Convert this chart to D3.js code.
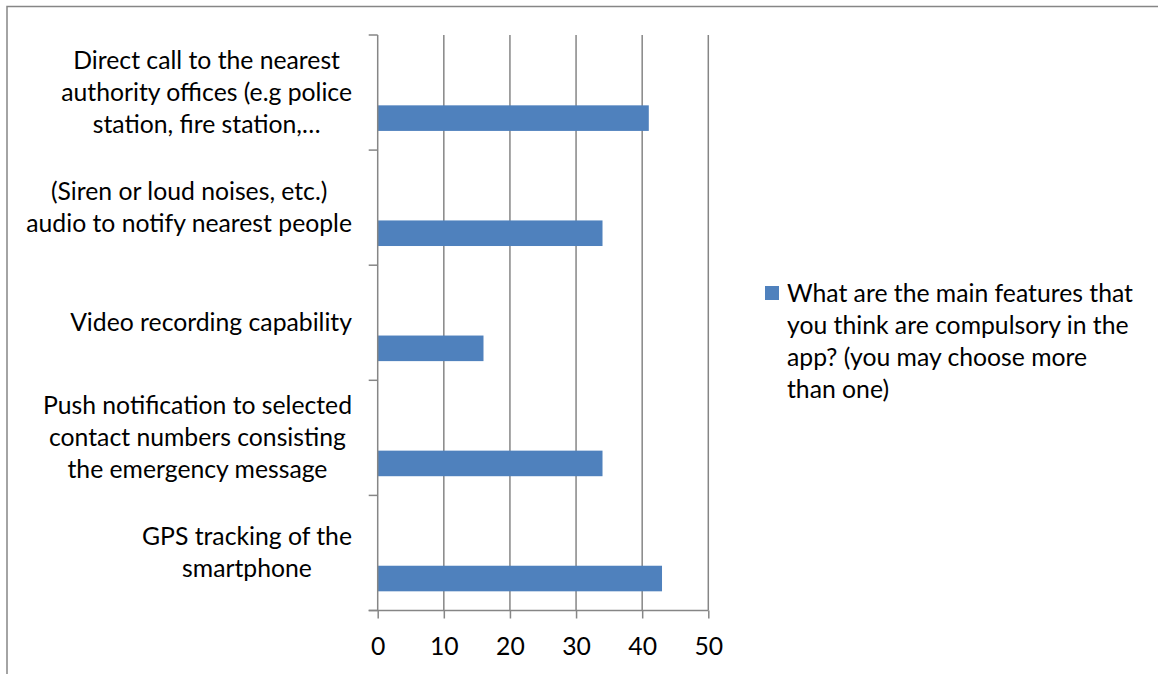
<!DOCTYPE html>
<html>
<head>
<meta charset="utf-8">
<script src="https://cdn.jsdelivr.net/npm/d3@7"></script>
<style>
  html, body { margin: 0; padding: 0; background: #fff; }
  svg { display: block; }
  text { font-family: Lato, "Open Sans", sans-serif; fill: #000; }
</style>
</head>
<body>
<svg id="chart" width="1158" height="674"></svg>
<script>
// Survey answers: features considered compulsory in the app
const categories = [
  "Direct call to the nearest\nauthority offices (e.g police\nstation, fire station,…",
  "(Siren or loud noises, etc.)\naudio to notify nearest people",
  "Video recording capability",
  "Push notification to selected\ncontact numbers consisting\nthe emergency message",
  "GPS tracking of the\nsmartphone"
];
const responses = [41, 34, 16, 34, 43];
const xTicks = [0, 10, 20, 30, 40, 50];
const seriesName = ["What are the main features that", "you think are compulsory in the", "app? (you may choose more", "than one)"];

const svg = d3.select("#chart");
const W = 1158, H = 674;

// Pick a font size whose widths follow the original 20pt Calibri labels
const probe = svg.append("text").attr("font-size", 100).text("Video recording capability");
const fs = 100 * 282 / probe.node().getComputedTextLength();
probe.remove();

const axisColor = "#868686";
const barColor = "#4f81bd";

// Chart area border
svg.append("path")
  .attr("d", `M7,${H} V6.5 H${W}`)
  .attr("fill", "none")
  .attr("stroke", axisColor)
  .attr("stroke-width", 1.5);

const plot = { left: 377.7, right: 708.3, top: 35, bottom: 610.5 };

const x = d3.scaleLinear().domain([0, 50]).range([plot.left, plot.right]);
const y = d3.scaleBand().domain(categories).range([plot.top, plot.bottom]).padding(0);
const bw = y.bandwidth();

// Vertical gridlines
svg.append("g").selectAll("line")
  .data(xTicks.filter(d => d > 0))
  .join("line")
  .attr("x1", d => x(d)).attr("x2", d => x(d))
  .attr("y1", plot.top).attr("y2", plot.bottom)
  .attr("stroke", axisColor).attr("stroke-width", 1.5);

// Bars (third slot of a clustered layout with 150% gap)
const slot = bw / 4.5;
svg.append("g").selectAll("rect")
  .data(categories)
  .join("rect")
  .attr("x", x(0))
  .attr("y", d => y(d) + slot * 2.75)
  .attr("width", (d, i) => x(responses[i]) - x(0))
  .attr("height", slot)
  .attr("fill", barColor);

// Category axis
const yAxis = d3.axisLeft(y).tickSize(0).tickFormat("");
const gy = svg.append("g").attr("transform", `translate(${plot.left},0)`).call(yAxis);
gy.select(".domain").attr("stroke", axisColor).attr("stroke-width", 1.5).attr("d", `M0,${plot.top}V${plot.bottom}`);
const bounds = categories.map(d => y(d)).concat([plot.bottom]);
gy.selectAll(".cat-tick").data(bounds).join("line")
  .attr("class", "cat-tick")
  .attr("x1", -9).attr("x2", 0)
  .attr("y1", d => d).attr("y2", d => d)
  .attr("stroke", axisColor).attr("stroke-width", 1.5);

// Value axis
const xAxis = d3.axisBottom(x).tickValues(xTicks).tickSize(8).tickPadding(0).tickFormat(d3.format("d"));
const gx = svg.append("g").attr("transform", `translate(0,${plot.bottom})`).call(xAxis);
gx.select(".domain").attr("stroke", axisColor).attr("stroke-width", 1.5).attr("d", `M${plot.left - 9},0H${plot.right}`);
gx.selectAll(".tick line").attr("stroke", axisColor).attr("stroke-width", 1.5);
gx.selectAll(".tick text")
  .attr("font-family", "Lato, sans-serif")
  .attr("font-size", fs)
  .attr("fill", "#000")
  .attr("dy", 0)
  .attr("y", 44.5)
  .attr("dominant-baseline", "alphabetic");

// Category labels: lines centred on each other, block right-aligned
const LH = 32;
const labelRight = 352;
categories.forEach(cat => {
  const lines = cat.split("\n");
  const cy = y(cat) + bw / 2;
  const g = svg.append("g");
  const texts = lines.map((ln, i) => g.append("text")
    .attr("font-size", fs)
    .attr("y", cy - (lines.length - 1) / 2 * LH + 8.5 + i * LH)
    .text(ln));
  const widths = texts.map(t => t.node().getComputedTextLength());
  const blockW = d3.max(widths);
  const centre = labelRight - blockW / 2;
  texts.forEach(t => t.attr("x", centre).attr("text-anchor", "middle"));
});

// Legend
const lg = svg.append("g");
lg.append("rect").attr("x", 765).attr("y", 286).attr("width", 14).attr("height", 14).attr("fill", barColor);
lg.selectAll("text").data(seriesName).join("text")
  .attr("x", 787)
  .attr("y", (d, i) => 302 + i * 32)
  .attr("font-size", fs)
  .text(d => d);
</script>
</body>
</html>
